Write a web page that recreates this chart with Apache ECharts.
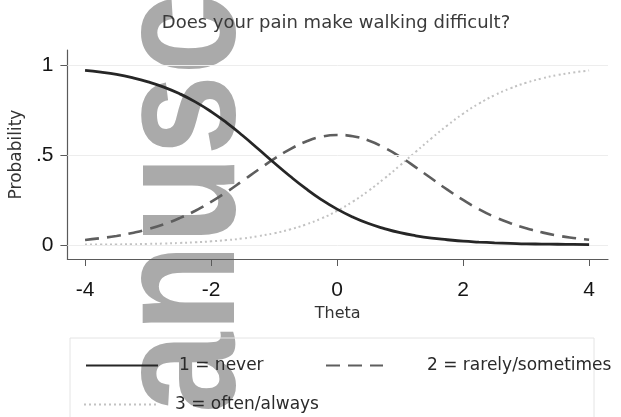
<!DOCTYPE html>
<html><head><meta charset="utf-8">
<script src="https://cdn.jsdelivr.net/npm/echarts@6/dist/echarts.min.js"></script>
<style>html,body{margin:0;padding:0;background:#fff}#c{width:621px;height:417px}</style>
</head><body><div id="c"></div>
<script>
const chartTitle = 'Does your pain make walking difficult?';
const theta = [-4,-3.75,-3.5,-3.25,-3,-2.75,-2.5,-2.25,-2,-1.75,-1.5,-1.25,-1,-0.75,-0.5,-0.25,0,0.25,0.5,0.75,1,1.25,1.5,1.75,2,2.25,2.5,2.75,3,3.25,3.5,3.75,4];
const pNever = [0.970,0.960,0.947,0.929,0.906,0.877,0.840,0.795,0.741,0.678,0.608,0.533,0.457,0.383,0.314,0.252,0.199,0.155,0.119,0.091,0.068,0.051,0.038,0.029,0.021,0.016,0.012,0.009,0.006,0.005,0.004,0.003,0.002];
const pRarely = [0.028,0.038,0.050,0.067,0.088,0.115,0.149,0.190,0.239,0.295,0.356,0.418,0.478,0.531,0.573,0.601,0.611,0.604,0.580,0.540,0.490,0.431,0.369,0.307,0.250,0.199,0.156,0.121,0.093,0.070,0.052,0.039,0.029];
const pOften = [0.002,0.002,0.003,0.004,0.006,0.008,0.011,0.015,0.020,0.027,0.036,0.049,0.065,0.086,0.113,0.147,0.190,0.241,0.301,0.369,0.442,0.518,0.593,0.664,0.729,0.785,0.832,0.870,0.901,0.925,0.944,0.958,0.969];
const seriesNames = ['1 = never','2 = rarely/sometimes','3 = often/always'];
const xTicks = [-4,-2,0,2,4];
const yTicks = [0,0.5,1];
const yTickLabels = ['0','.5','1'];
const xName = 'Theta';
const yName = 'Probability';
const watermark = 'Manuscript';

const SANS = 'DejaVu Sans, Verdana, sans-serif';
const ARIAL = 'Liberation Sans, Arial, sans-serif';
const pairs = arr => theta.map((t,i)=>[t,arr[i]]);
const legendBase = {padding:0,itemHeight:14,
  itemStyle:{opacity:0,borderWidth:0},
  textStyle:{fontFamily:SANS,fontSize:17,color:'#2a2a2a'}};
const chart = echarts.init(document.getElementById('c'), null, {renderer:'canvas'});
chart.setOption({
  animation:false,
  backgroundColor:'#fff',
  title:{text:chartTitle,left:336,top:14,textAlign:'center',padding:0,
    textStyle:{fontFamily:SANS,fontSize:18,fontWeight:'normal',color:'#3a3a3a'}},
  grid:{left:63,right:13,top:50,bottom:158,containLabel:false},
  xAxis:{type:'value',min:-4.28,max:4.3,
    name:xName,nameLocation:'middle',nameGap:47,
    nameTextStyle:{fontFamily:SANS,fontSize:16,color:'#333'},
    axisLine:{show:true,onZero:false,lineStyle:{color:'#5a5a5a',width:1.2}},
    axisTick:{show:true,length:7,customValues:xTicks,lineStyle:{color:'#5a5a5a'}},
    axisLabel:{customValues:xTicks,margin:21,fontFamily:ARIAL,fontSize:21,color:'#151515'},
    splitLine:{show:false}},
  yAxis:{type:'value',min:-0.078,max:1.083,
    name:yName,nameLocation:'middle',nameGap:34,
    nameTextStyle:{fontFamily:SANS,fontSize:17,color:'#333'},
    axisLine:{show:true,onZero:false,lineStyle:{color:'#5a5a5a',width:1.2}},
    axisTick:{show:true,length:7,customValues:yTicks,lineStyle:{color:'#5a5a5a'}},
    axisLabel:{customValues:yTicks,margin:14,fontFamily:ARIAL,fontSize:21,color:'#151515',
      formatter:v=>yTickLabels[yTicks.indexOf(v)]},
    splitLine:{show:false}},
  legend:[
    Object.assign({},legendBase,{data:[seriesNames[0]],left:85,top:357,itemWidth:72,
      textStyle:Object.assign({},legendBase.textStyle,{padding:[0,0,0,16]})}),
    Object.assign({},legendBase,{data:[seriesNames[1]],left:325,top:357,itemWidth:57,
      textStyle:Object.assign({},legendBase.textStyle,{padding:[0,0,0,39]})}),
    Object.assign({},legendBase,{data:[seriesNames[2]],left:83,top:396,itemWidth:75,
      textStyle:Object.assign({},legendBase.textStyle,{padding:[0,0,0,11]})})
  ],
  graphic:[
    {type:'text',x:273,y:534,rotation:Math.PI/2,scaleY:1.19,z:0,silent:true,
      style:{text:watermark,font:'bold 145px Liberation Sans, Arial, sans-serif',fill:'#aaaaaa',
        textAlign:'left',textVerticalAlign:'bottom'}},
    {type:'rect',shape:{x:70,y:338,width:524,height:100},z:1,
      style:{fill:'none',stroke:'#e4e4e4',lineWidth:1}}
  ],
  series:[
    {name:seriesNames[2],type:'line',data:pairs(pOften),smooth:true,symbol:'none',z:3,
      lineStyle:{color:'#c2c2c2',width:2,type:[2,3]},itemStyle:{color:'#c2c2c2'},
      markLine:{silent:true,symbol:'none',label:{show:false},
        lineStyle:{color:'#ededed',width:1,type:'solid'},
        data:yTicks.map(v=>({yAxis:v}))}},
    {name:seriesNames[1],type:'line',data:pairs(pRarely),smooth:true,symbol:'none',z:4,
      lineStyle:{color:'#5e5e5e',width:2.6,type:[14,8]},itemStyle:{color:'#5e5e5e'}},
    {name:seriesNames[0],type:'line',data:pairs(pNever),smooth:true,symbol:'none',z:5,
      lineStyle:{color:'#262626',width:2.8,type:'solid'},itemStyle:{color:'#262626'}}
  ]
});
</script></body></html>
